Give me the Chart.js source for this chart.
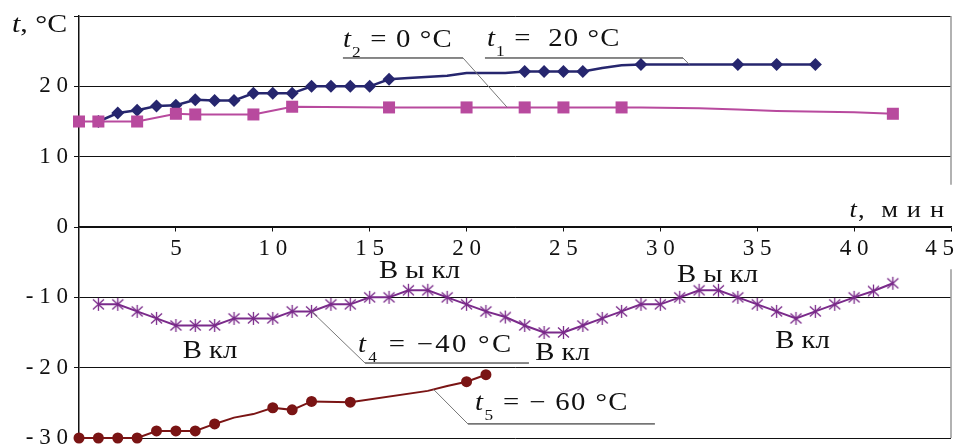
<!DOCTYPE html>
<html>
<head>
<meta charset="utf-8">
<script src="https://cdn.jsdelivr.net/npm/chart.js@4.4.1/dist/chart.umd.min.js"></script>
<style>
  html, body { margin: 0; padding: 0; background: #fff; }
  canvas { display: block; }
</style>
</head>
<body>
<canvas id="chart" width="957" height="448"></canvas>
<script>
// ---- data: time in minutes, temperature in °C ----
// t1 = 20 °C (diamonds)
const t1Times  = [1, 2, 3, 4, 5, 6, 7, 8, 9, 10, 11, 12, 13, 14, 15, 16, 17, 19, 20, 22, 23, 24, 25, 26, 27, 28, 29, 34, 36, 38];
const t1Values = [15, 16.2, 16.6, 17.2, 17.3, 18.1, 18, 18, 19, 19, 19, 20, 20, 20, 20, 21, 21.2, 21.5, 21.9, 21.9, 22.1, 22.1, 22.1, 22.1, 22.6, 23, 23.1, 23.1, 23.1, 23.1];
const t1Unmarked = [17, 19, 20, 22, 27, 28];   // line bends drawn without a marker

// t2 = 0 °C (squares)
const t2Times  = [0, 1, 3, 5, 6, 9, 11, 16, 20, 23, 25, 28, 29, 32, 34, 36, 40, 42];
const t2Values = [15, 15, 15, 16.1, 16, 16, 17.1, 17, 17, 17, 17, 17, 17, 16.9, 16.7, 16.5, 16.3, 16.1];
const t2Unmarked = [29, 32, 34, 36, 40];

// t4 = -40 °C (stars), compressor on/off cycling
const t4Times  = [1, 2, 3, 4, 5, 6, 7, 8, 9, 10, 11, 12, 13, 14, 15, 16, 17, 18, 19, 20, 21, 22, 23, 24, 25, 26, 27, 28, 29, 30, 31, 32, 33, 34, 35, 36, 37, 38, 39, 40, 41, 42];
const t4Values = [-11, -11, -12, -13, -14, -14, -14, -13, -13, -13, -12, -12, -11, -11, -10, -10, -9, -9, -10, -11, -12, -12.8, -14, -15, -15, -14, -13, -12, -11, -11, -10, -9, -9, -10, -11, -12, -13, -12, -11, -10, -9.1, -8];

// t5 = -60 °C (circles)
const t5Times  = [0, 1, 2, 3, 4, 5, 6, 7, 8, 9, 10, 11, 12, 14, 18, 19, 20, 21];
const t5Values = [-30, -30, -30, -30, -29, -29, -29, -28, -27.1, -26.6, -25.7, -26, -24.8, -24.9, -23.3, -22.6, -22, -21];
const t5Unmarked = [8, 9, 18, 19];

// axis ticks
const xTickValues = [5, 10, 15, 20, 25, 30, 35, 40, 45];
const yTickValues = [-30, -20, -10, 0, 10, 20, 30];

// ---- helpers ----
function toPoints(times, values) {
  return times.map((t, i) => ({ x: t, y: values[i] }));
}

// spread digits apart like the original typesetting: "20" -> "2 0"
function spaced(v) {
  return String(v).split('').join(' ');
}

// Excel-like star marker (X with a vertical bar)
function starMarker(color) {
  const c = document.createElement('canvas');
  c.width = 15; c.height = 15;
  const g = c.getContext('2d');
  g.strokeStyle = color;
  g.lineWidth = 1.3;
  g.beginPath();
  g.moveTo(7.5, 1); g.lineTo(7.5, 14);
  g.moveTo(2, 2.5); g.lineTo(13, 12.5);
  g.moveTo(13, 2.5); g.lineTo(2, 12.5);
  g.stroke();
  return c;
}

function radiusExcept(unmarked, r) {
  return ctx => (ctx.raw && unmarked.includes(ctx.raw.x)) ? 0 : r;
}

const NAVY = '#26266e';
const PINK = '#b84a9e';
const PURPLE = '#7a2a8a';
const DARKRED = '#7a1414';
const FONT = '"Liberation Serif", "DejaVu Serif", serif';

// draws text made of parts (italic / subscript) slightly stretched sideways
function drawRich(ctx, parts, x, y, size, align, spacing) {
  const sx = 1.15;
  ctx.save();
  ctx.letterSpacing = (spacing || 0) + 'px';
  const fonts = parts.map(p => (p.i ? 'italic ' : '') + (p.s ? Math.round(size * 0.6) : size) + 'px ' + FONT);
  const widths = parts.map((p, k) => { ctx.font = fonts[k]; return ctx.measureText(p.t).width; });
  const total = widths.reduce((a, b) => a + b, 0) * sx;
  const left = align === 'center' ? x - total / 2 : align === 'right' ? x - total : x;
  ctx.translate(left, y);
  ctx.scale(sx, 1);
  ctx.fillStyle = '#111';
  ctx.textBaseline = 'alphabetic';
  ctx.textAlign = 'left';
  let off = 0;
  parts.forEach((p, k) => {
    ctx.font = fonts[k];
    ctx.fillText(p.t, off, p.s ? size * 0.4 : 0);
    off += widths[k];
  });
  ctx.restore();
}

function line(ctx, pts, color, width) {
  ctx.save();
  ctx.strokeStyle = color;
  ctx.lineWidth = width;
  ctx.beginPath();
  pts.forEach((p, i) => i ? ctx.lineTo(p[0], p[1]) : ctx.moveTo(p[0], p[1]));
  ctx.stroke();
  ctx.restore();
}

// series labels with underline + leader, and the on/off notes (anchored in data units)
const annotations = {
  id: 'annotations',
  afterDatasetsDraw(chart) {
    const { ctx, chartArea } = chart;
    const xs = chart.scales.x, ys = chart.scales.y;
    const P = (x, y) => [xs.getPixelForValue(x), ys.getPixelForValue(y)];

    // right frame (broken around the time-axis labels)
    line(ctx, [P(45, 30), P(45, 6)], '#999', 1.5);
    line(ctx, [P(45, -6), P(45, -30)], '#999', 1.5);

    // axis titles
    drawRich(ctx, [{ t: 't', i: true }, { t: ', °C' }], chartArea.left - 67, chartArea.top + 16, 26, 'left', 0);
    let a = P(44.7, 1.4);
    drawRich(ctx, [{ t: 't', i: true }, { t: ',  м и н' }], a[0], a[1], 23, 'right', 1);

    // t2
    a = P(13.62, 25.6);
    drawRich(ctx, [{ t: 't', i: true }, { t: '2', s: true }, { t: ' = 0 °C' }], a[0], a[1], 25, 'left', 1);
    line(ctx, [P(13.62, 24.03), P(19.82, 24.03)], '#111', 1);
    line(ctx, [P(19.82, 24.03), P(22.1, 17)], '#777', 1);

    // t1
    a = P(21.05, 25.7);
    drawRich(ctx, [{ t: 't', i: true }, { t: '1', s: true }, { t: ' =  20 °C' }], a[0], a[1], 25, 'left', 1);
    line(ctx, [P(20.95, 24.03), P(31.17, 24.03)], '#111', 1);
    line(ctx, [P(31.17, 24.03), P(31.5, 23.1)], '#777', 1);

    // t4
    a = P(14.4, -17.8);
    drawRich(ctx, [{ t: 't', i: true }, { t: '4', s: true }, { t: ' = −40 °C' }], a[0], a[1], 25, 'left', 2);
    line(ctx, [P(23.22, -19.34), P(14.76, -19.34)], '#111', 1);
    line(ctx, [P(14.76, -19.34), P(12, -12)], '#777', 1);

    // t5
    a = P(20.44, -26.0);
    drawRich(ctx, [{ t: 't', i: true }, { t: '5', s: true }, { t: ' = − 60 °C' }], a[0], a[1], 25, 'left', 1.2);
    line(ctx, [P(18.3, -23.1), P(20.07, -28.0)], '#777', 1);
    line(ctx, [P(20.07, -28.0), P(29.72, -28.0)], '#111', 1);

    // compressor on / off notes
    const notes = [
      ['В ы кл', 17.57, -7.25], ['В кл', 6.76, -18.6], ['В кл', 24.95, -18.9],
      ['В ы кл', 32.95, -7.8], ['В кл', 37.34, -17.2]
    ];
    notes.forEach(n => {
      const p = P(n[1], n[2]);
      drawRich(ctx, [{ t: n[0] }], p[0], p[1], 25, 'center', 0);
    });
  }
};

new Chart(document.getElementById('chart'), {
  type: 'scatter',
  data: {
    datasets: [
      {
        label: 't2 = 0 °C',
        data: toPoints(t2Times, t2Values),
        showLine: true,
        clip: false,
        borderColor: PINK,
        backgroundColor: PINK,
        borderWidth: 2,
        pointStyle: 'rect',
        pointRadius: radiusExcept(t2Unmarked, 8.5),
        pointBorderWidth: 0
      },
      {
        label: 't1 = 20 °C',
        data: toPoints(t1Times, t1Values),
        showLine: true,
        clip: false,
        borderColor: NAVY,
        backgroundColor: NAVY,
        borderWidth: 2.5,
        pointStyle: 'rectRot',
        pointRadius: radiusExcept(t1Unmarked, 6.5),
        pointBorderWidth: 0
      },
      {
        label: 't4 = -40 °C',
        data: toPoints(t4Times, t4Values),
        showLine: true,
        clip: false,
        borderColor: PURPLE,
        backgroundColor: PURPLE,
        borderWidth: 2,
        pointStyle: starMarker(PURPLE),
        pointRadius: 6
      },
      {
        label: 't5 = -60 °C',
        data: toPoints(t5Times, t5Values),
        showLine: true,
        clip: false,
        borderColor: DARKRED,
        backgroundColor: DARKRED,
        borderWidth: 2,
        pointStyle: 'circle',
        pointRadius: radiusExcept(t5Unmarked, 5.5),
        pointBorderWidth: 0
      }
    ]
  },
  options: {
    responsive: false,
    animation: false,
    devicePixelRatio: 1,
    layout: { autoPadding: false, padding: { left: 0, top: 16, right: 6, bottom: 10 } },
    plugins: { legend: { display: false }, tooltip: { enabled: false } },
    scales: {
      x: {
        type: 'linear',
        position: { y: 0 },
        min: 0,
        max: 45,
        afterBuildTicks: s => { s.ticks = xTickValues.map(v => ({ value: v })); },
        afterFit: s => { s.paddingLeft = 0; s.paddingRight = 0; },
        ticks: {
          autoSkip: false,
          maxRotation: 0,
          padding: 4,
          color: '#111',
          font: { family: FONT, size: 23 },
          // last label nudged inward so it stays inside the picture
          callback: v => v === 45 ? spaced(v) + '\u2003' : spaced(v)
        },
        grid: { drawOnChartArea: false, color: '#111', tickLength: 4, lineWidth: 1 },
        border: { color: '#111', width: 1.5 }
      },
      y: {
        type: 'linear',
        position: 'left',
        min: -30,
        max: 30,
        afterBuildTicks: s => { s.ticks = yTickValues.map(v => ({ value: v })); },
        afterFit: s => { s.width = 79; s.paddingTop = 0; s.paddingBottom = 0; },
        ticks: {
          autoSkip: false,
          padding: 6,
          color: '#111',
          font: { family: FONT, size: 23 },
          callback: v => v === 30 ? '' : spaced(v)
        },
        grid: { color: '#111', lineWidth: 1, tickLength: 5 },
        border: { color: '#111', width: 1.5 }
      }
    }
  },
  plugins: [annotations]
});
</script>
</body>
</html>
